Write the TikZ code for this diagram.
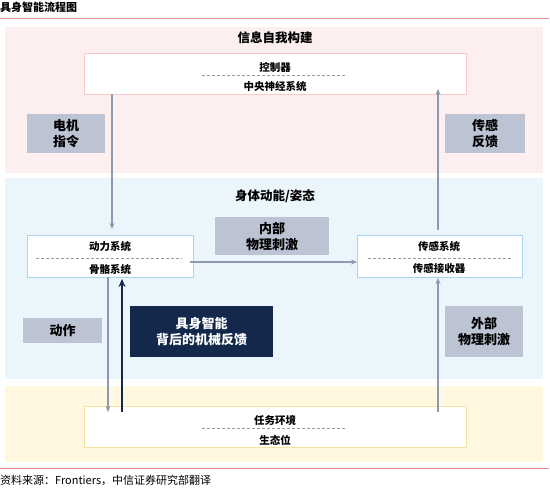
\documentclass[tikz,border=0pt]{standalone}
\usepackage{fontspec}
\setmainfont{Noto Sans CJK SC}
\usetikzlibrary{arrows.meta,calc}
\definecolor{bandpink}{HTML}{FDEFEF}
\definecolor{edgepink}{HTML}{F9C9C9}
\definecolor{bandblue}{HTML}{EAF5FC}
\definecolor{edgeblue}{HTML}{A9D4EE}
\definecolor{bandyellow}{HTML}{FFF7E0}
\definecolor{edgeyellow}{HTML}{F7E0A3}
\definecolor{graybox}{HTML}{BCC3D3}
\definecolor{arrgray}{HTML}{8D9AB4}
\definecolor{navy}{HTML}{13284A}
\definecolor{rulered}{HTML}{E88A8A}
\definecolor{dashgray}{HTML}{9A9A9A}
\tikzset{
  band/.style={anchor=north west, inner sep=0, outer sep=0, draw=none},
  wbox/.style={anchor=north west, inner sep=0, outer sep=0, fill=white, line width=0.8pt},
  gbox/.style={anchor=north west, inner sep=0, outer sep=0, fill=graybox},
  lbl/.style={inner sep=0, font=\fontsize{10.5}{12}\selectfont\bfseries},
  glbl/.style={inner sep=0, align=center, font=\fontsize{13}{16}\selectfont\bfseries},
  btitle/.style={inner sep=0, font=\fontsize{12.5}{14}\selectfont\bfseries},
  sepline/.style={draw=dashgray, dash pattern=on 3pt off 2pt, line width=0.5pt},
  arr/.style={draw=arrgray, line width=1.3pt, -{Stealth[length=6pt,width=5pt]}},
  darr/.style={draw=navy, line width=2.4pt, -{Stealth[length=8pt,width=7pt]}}
}
\begin{document}
\begin{tikzpicture}[x=1pt,y=-1pt]
\useasboundingbox (0,0) rectangle (550,490);
% title and rules
\node[anchor=west, inner sep=0, font=\fontsize{11}{12}\selectfont\bfseries] (title) at (0,7) {具身智能流程图};
\coordinate (r1a) at (0,18); \coordinate (r1b) at (549,18);
\draw[rulered, line width=1pt] (r1a) -- (r1b);
\coordinate (r2a) at (0,468); \coordinate (r2b) at (549,468);
\draw[rulered, line width=1pt] (r2a) -- (r2b);
\node[anchor=west, inner sep=0, font=\fontsize{11}{12}\selectfont] (src) at (0,480) {资料来源：Frontiers，中信证券研究部翻译};
% bands
\node[band, fill=bandpink, minimum width=538pt, minimum height=146pt] (b1) at (5,27) {};
\node[band, fill=bandblue, minimum width=538pt, minimum height=201pt] (b2) at (5,178) {};
\node[band, fill=bandyellow, minimum width=538pt, minimum height=76pt] (b3) at (5,386) {};
\node[btitle] (t1) at (275,38) {信息自我构建};
\node[btitle] (t2) at (275,196) {身体动能/姿态};
% white boxes
\node[wbox, draw=edgepink, minimum width=382pt, minimum height=41pt] (ctrl) at (84,53) {};
\node[lbl] (ctrlA) at (275,67) {控制器};
\node[lbl] (ctrlB) at (275,86) {中央神经系统};
\coordinate (cd1) at (202,75); \coordinate (cd2) at (347,75);
\draw[sepline] (cd1) -- (cd2);

\node[wbox, draw=edgeblue, minimum width=166pt, minimum height=42pt] (motor) at (27,235) {};
\node[lbl] (motorA) at (110,246) {动力系统};
\node[lbl] (motorB) at (110,269) {骨骼系统};
\coordinate (md1) at (36,258); \coordinate (md2) at (182,258);
\draw[sepline] (md1) -- (md2);

\node[wbox, draw=edgeblue, minimum width=165pt, minimum height=42pt] (sensor) at (357,235) {};
\node[lbl] (sensorA) at (439,246) {传感系统};
\node[lbl] (sensorB) at (439,269) {传感接收器};
\coordinate (sd1) at (368,258); \coordinate (sd2) at (512,258);
\draw[sepline] (sd1) -- (sd2);

\node[wbox, draw=edgeyellow, minimum width=382pt, minimum height=41pt] (env) at (84,406) {};
\node[lbl] (envA) at (275,420) {任务环境};
\node[lbl] (envB) at (275,440) {生态位};
\coordinate (ed1) at (202,428); \coordinate (ed2) at (347,428);
\draw[sepline] (ed1) -- (ed2);

% gray label boxes
\node[gbox, minimum width=78pt, minimum height=39pt] (cmd) at (27,114) {};
\node[glbl] (cmdT) at (cmd.center) {电机\\指令};
\node[gbox, minimum width=80pt, minimum height=39pt] (fb) at (445,114) {};
\node[glbl] (fbT) at (fb.center) {传感\\反馈};
\node[gbox, minimum width=114pt, minimum height=38pt] (inner) at (215,217) {};
\node[glbl] (innerT) at (inner.center) {内部\\物理刺激};
\node[gbox, minimum width=78pt, minimum height=51pt] (outer) at (445,306) {};
\node[glbl] (outerT) at (outer.center) {外部\\物理刺激};
\node[gbox, minimum width=79pt, minimum height=25pt] (act) at (23,318) {};
\node[glbl] (actT) at (act.center) {动作};
\node[anchor=north west, inner sep=0, fill=navy, minimum width=143pt, minimum height=51pt] (dark) at (130,306) {};
\node[glbl, text=white, font=\fontsize{13}{16.5}\selectfont\bfseries] (darkT) at (dark.center) {具身智能\\背后的机械反馈};

% arrows
\coordinate (a1s) at ($(ctrl.south west)+(28,0)$);
\coordinate (a1e) at ($(a1s |- motor.north)+(0,-6)$);
\draw[arr] (a1s) -- (a1e);
\coordinate (a2s) at ($(sensor.north west)+(81,-5)$);
\coordinate (a2e) at ($(a2s |- ctrl.south)+(0,-5)$);
\draw[arr] (a2s) -- (a2e);
\coordinate (a3s) at ($(motor.east)+(-3,6)$);
\coordinate (a3e) at (a3s -| sensor.west);
\draw[arr] (a3s) -- (a3e);
\coordinate (a4s) at ($(motor.south west)+(81,0)$);
\coordinate (a4e) at ($(a4s |- env.north)+(0,6)$);
\draw[arr] (a4s) -- (a4e);
\coordinate (a5s) at ($(env.north west)+(38,6)$);
\coordinate (a5e) at ($(a5s |- motor.south)+(0,2)$);
\draw[darr] (a5s) -- (a5e);
\coordinate (a6s) at ($(env.north west)+(354,6)$);
\coordinate (a6e) at ($(a6s |- sensor.south)+(0,1)$);
\draw[arr] (a6s) -- (a6e);
\end{tikzpicture}
\end{document}
